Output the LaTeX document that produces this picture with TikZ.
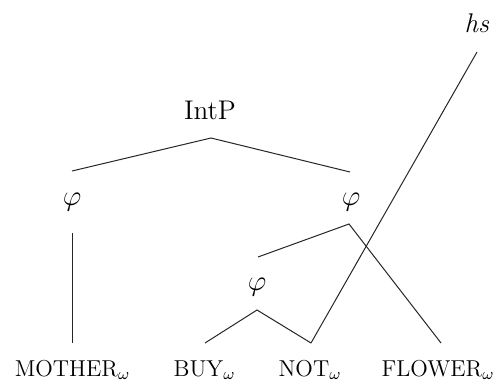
\documentclass[tikz,border=0pt]{standalone}
\usepackage{tikz}

\begin{document}
\begin{tikzpicture}[x=0.5pt,y=-0.5pt]
    \tikzset{
        lbl/.style={inner sep=0pt, font=\fontsize{13.5}{15}\selectfont},
        wrd/.style={inner sep=0pt, anchor=base, font=\fontsize{11.5}{13}\selectfont},
        edge/.style={line width=0.5pt, black!85}
    }
    \useasboundingbox (0,0) rectangle (502,385);

    % 枝の端点の定義
    \coordinate (Itop) at (211,138);
    \coordinate (Il) at (72,171);
    \coordinate (Ir) at (350,172);
    \coordinate (Fa) at (72,233);
    \coordinate (Fb) at (349,224);
    \coordinate (Fbl) at (258,257);
    \coordinate (Fc) at (257,310);
    \coordinate (Wm) at (72,343);
    \coordinate (Wb) at (205,343);
    \coordinate (Wn) at (311,343);
    \coordinate (Wf) at (441,343);
    \coordinate (Htop) at (477,52);

    % ラベル
    \node[lbl] (IntP) at (210,110) {IntP};
    \node[lbl] (phiA) at (72,202) {$\varphi$};
    \node[lbl] (phiB) at (351,202) {$\varphi$};
    \node[lbl] (phiC) at (257,287) {$\varphi$};
    \node[lbl] (hs) at (477,23) {\textit{hs}};
    \node[wrd] (mother) at (72.5,376) {MOTHER$_\omega$};
    \node[wrd] (buy) at (204.5,376) {BUY$_\omega$};
    \node[wrd] (not) at (310,376) {NOT$_\omega$};
    \node[wrd] (flower) at (438,376) {FLOWER$_\omega$};

    % 枝の描画
    \draw[edge] (Il) -- (Itop) -- (Ir);
    \draw[edge] (Fa) -- (Wm);
    \draw[edge] (Fbl) -- (Fb) -- (Wf);
    \draw[edge] (Wb) -- (Fc) -- (Wn);
    \draw[edge] (Wn) -- (Htop);

\end{tikzpicture}
\end{document}
